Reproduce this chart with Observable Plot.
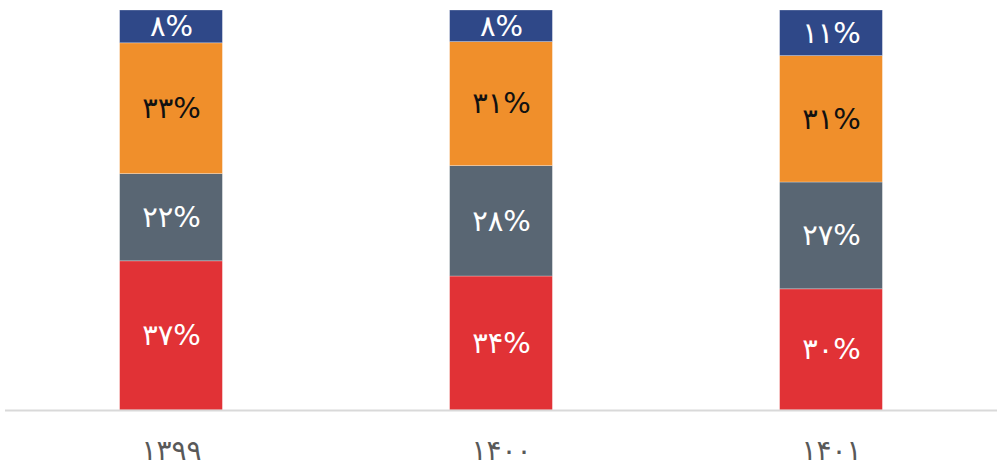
<!DOCTYPE html>
<html>
<head>
<meta charset="utf-8">
<script src="https://cdn.jsdelivr.net/npm/d3@7"></script>
<script src="https://cdn.jsdelivr.net/npm/@observablehq/plot@0.6"></script>
<style>
  html, body { margin: 0; padding: 0; background: #ffffff; }
  #chart svg { display: block; }
</style>
</head>
<body>
<div id="chart"></div>
<script>
// Categories (years, Persian digits)
const years = ["۱۳۹۹", "۱۴۰۰", "۱۴۰۱"];
// Series, bottom to top
const series = ["red", "gray", "orange", "blue"];
const seriesColors = ["#E13236", "#596673", "#F08F2B", "#2F4888"];
const labelColors = ["#ffffff", "#ffffff", "#111111", "#ffffff"];
// Segment shares (percent)
const redValues = [37.3, 33.5, 30.3];
const grayValues = [21.8, 27.6, 26.7];
const orangeValues = [32.7, 31.0, 31.6];
const blueValues = [8.2, 7.9, 11.4];
// Printed percentage labels
const redLabels = [37, 34, 30];
const grayLabels = [22, 28, 27];
const orangeLabels = [33, 31, 31];
const blueLabels = [8, 8, 11];

const valuesBySeries = [redValues, grayValues, orangeValues, blueValues];
const labelsBySeries = [redLabels, grayLabels, orangeLabels, blueLabels];

const fa = (n) => String(n).replace(/\d/g, (d) => "۰۱۲۳۴۵۶۷۸۹"[d]);

const rows = [];
years.forEach((year, i) => {
  series.forEach((s, j) => {
    rows.push({
      year,
      series: s,
      value: valuesBySeries[j][i],
      label: fa(labelsBySeries[j][i]) + "%",
      fill: seriesColors[j],
      textFill: labelColors[j]
    });
  });
});

const font = "'DejaVu Sans', 'Noto Sans', sans-serif";

const chart = Plot.plot({
  width: 997,
  height: 469,
  marginTop: 10,
  marginBottom: 59,
  marginLeft: 5,
  marginRight: 0,
  style: { fontFamily: font, background: "#ffffff" },
  x: { domain: years, padding: 0, label: null },
  y: { domain: [0, 100], axis: null },
  color: { type: "identity" },
  marks: [
    Plot.barY(rows, Plot.stackY({
      x: "year",
      y: "value",
      z: "series",
      order: series,
      fill: "fill",
      insetLeft: 113.6,
      insetRight: 113.6,
      stroke: "#ffffff",
      strokeOpacity: 0.35,
      strokeWidth: 0.8
    })),
    Plot.text(rows, Plot.stackY({
      x: "year",
      y: "value",
      z: "series",
      order: series,
      text: "label",
      fill: "textFill",
      fontSize: 29,
      fontFamily: font
    })),
    Plot.ruleY([0], { stroke: "#d9d9d9", strokeWidth: 2 }),
    Plot.axisX({
      tickSize: 0,
      tickPadding: 30,
      fontSize: 28,
      fill: "#595959",
      fontFamily: font,
      label: null
    })
  ]
});

document.getElementById("chart").appendChild(chart);
</script>
</body>
</html>
